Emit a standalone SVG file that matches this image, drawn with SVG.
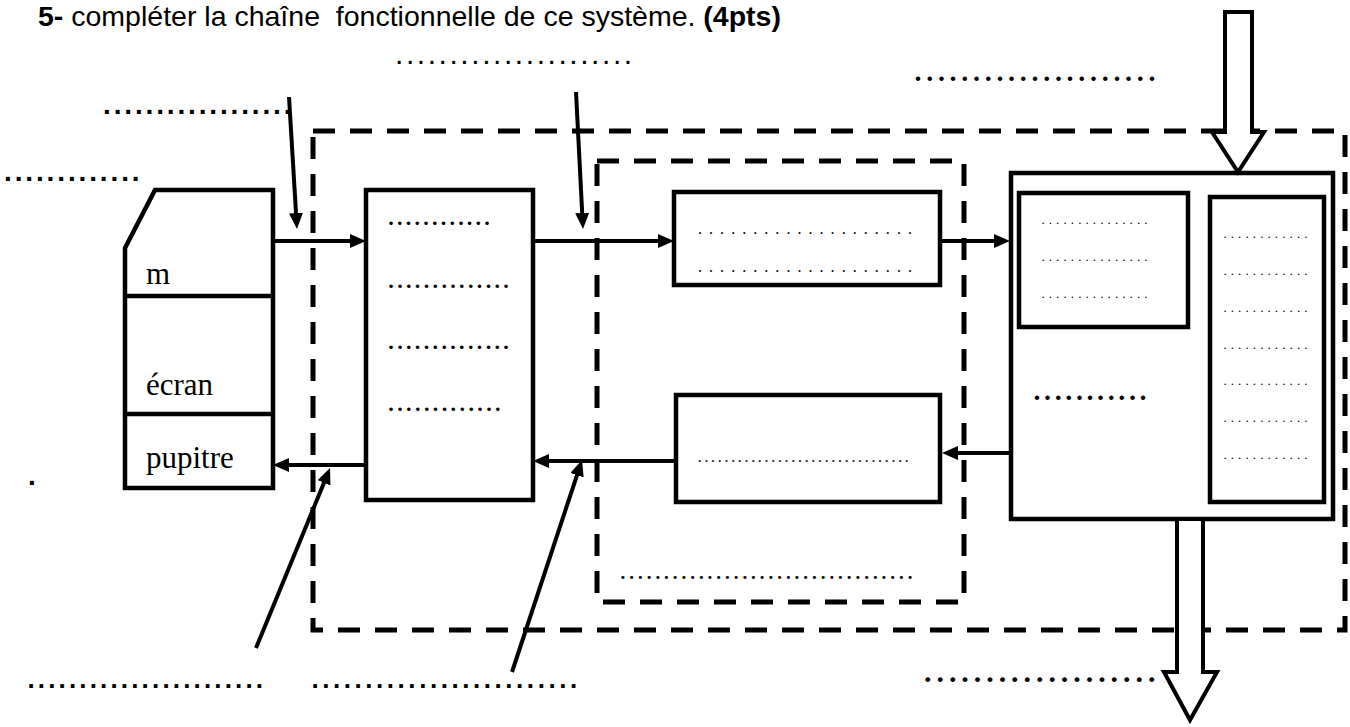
<svg xmlns="http://www.w3.org/2000/svg" width="1350" height="727" viewBox="0 0 1350 727">
<defs>
<marker id="ah" viewBox="0 0 16 14" markerWidth="16" markerHeight="14" refX="8" refY="7" orient="auto" markerUnits="userSpaceOnUse">
<path d="M0,0 L16,7 L0,14 z" fill="#000"/>
</marker>
</defs>
<style>
.box{fill:#fff;stroke:#000;stroke-width:4.5}
.dash{fill:none;stroke:#000;stroke-width:5;stroke-dasharray:22 15}
.con{fill:none;stroke:#000;stroke-width:4;marker-end:url(#ah)}
.hol{fill:#fff;stroke:#000;stroke-width:4;stroke-linejoin:miter}
.title{font-family:"Liberation Sans",Arial,sans-serif;font-size:28.5px;fill:#000}
.lbl{font-family:"Liberation Serif","Times New Roman",serif;font-size:31px;fill:#000}
.sq{font-family:"Liberation Sans",Arial,sans-serif;font-size:30px;letter-spacing:2.56px;fill:#000}
.sqb{font-family:"Liberation Sans",Arial,sans-serif;font-weight:bold;font-size:28px;fill:#000}
.sqm{font-family:"Liberation Sans",Arial,sans-serif;font-weight:bold;font-size:26px;fill:#000}
.rb{font-family:"Liberation Serif","Times New Roman",serif;font-weight:bold;fill:#000}
.rs{font-family:"Liberation Serif","Times New Roman",serif;fill:#000}
.ri{font-family:"Liberation Serif","Times New Roman",serif;font-style:italic;font-size:17px;letter-spacing:2.43px;fill:#222}
</style>

<text class="title" x="38" y="26" xml:space="preserve"><tspan font-weight="bold">5-</tspan> compléter la chaîne  fonctionnelle de ce système. <tspan font-weight="bold">(4pts)</tspan></text>

<!-- dashed boundaries -->
<g id="outer-boundary"><rect class="dash" x="313" y="131" width="1032" height="499"/></g>
<g id="inner-boundary"><rect class="dash" x="597" y="161" width="367" height="441"/></g>

<!-- device -->
<g id="device">
<path class="box" d="M125,248 L155,190 L273,190 L273,488 L125,488 Z"/>
<line x1="125" y1="296" x2="273" y2="296" stroke="#000" stroke-width="4.5"/>
<line x1="125" y1="414" x2="273" y2="414" stroke="#000" stroke-width="4.5"/>
<text class="lbl" x="146" y="284">m</text>
<text class="lbl" x="146" y="395">écran</text>
<text class="lbl" x="146" y="468">pupitre</text>
</g>

<!-- box A -->
<g id="box-a">
<rect class="box" x="366" y="190" width="167" height="310"/>
<text class="rb" font-size="22" letter-spacing="3.23" x="388.3" y="225">............</text>
<text class="rb" font-size="22" letter-spacing="3.35" x="388.3" y="288">..............</text>
<text class="rb" font-size="22" letter-spacing="3.35" x="388.3" y="349">..............</text>
<text class="rb" font-size="22" letter-spacing="3.4" x="388.3" y="411">.............</text>
</g>

<!-- box B -->
<g id="box-b">
<rect class="box" x="674" y="192" width="266" height="93"/>
<text class="rs" font-size="16" letter-spacing="7.05" x="698" y="234">....................</text>
<text class="rs" font-size="16" letter-spacing="7.05" x="698" y="272">....................</text>
</g>

<!-- box C -->
<g id="box-c">
<rect class="box" x="676" y="395" width="264" height="107"/>
<text class="ri" x="698" y="461.5">................................</text>
</g>
<text class="rb" font-size="19" letter-spacing="3.95" x="620.6" y="578.6">..................................</text>

<!-- box D -->
<g id="box-d">
<rect class="box" x="1011" y="173" width="322" height="346"/>
<rect class="box" x="1019" y="193" width="169" height="134"/>
<rect class="box" x="1210" y="197" width="114" height="305"/>
<text class="rs" font-size="13" letter-spacing="4.1" x="1041.4" y="224">...............</text>
<text class="rs" font-size="13" letter-spacing="4.1" x="1041.4" y="261">...............</text>
<text class="rs" font-size="13" letter-spacing="4.1" x="1041.4" y="298">...............</text>
<text class="rs" font-size="13" letter-spacing="4.1" x="1223.4" y="238">............</text>
<text class="rs" font-size="13" letter-spacing="4.1" x="1223.4" y="275">............</text>
<text class="rs" font-size="13" letter-spacing="4.1" x="1223.4" y="312">............</text>
<text class="rs" font-size="13" letter-spacing="4.1" x="1223.4" y="349">............</text>
<text class="rs" font-size="13" letter-spacing="4.1" x="1223.4" y="385">............</text>
<text class="rs" font-size="13" letter-spacing="4.1" x="1223.4" y="422">............</text>
<text class="rs" font-size="13" letter-spacing="4.1" x="1223.4" y="459">............</text>
<text class="rb" font-size="28" letter-spacing="3.6" x="1033.5" y="400">...........</text>
</g>

<!-- hollow arrows -->
<g id="input-arrow"><path class="hol" d="M1225,12 L1252,12 L1252,132 L1264,132 L1238,172 L1212,132 L1225,132 Z"/></g>
<g id="output-arrow"><path class="hol" d="M1177,519 L1203,519 L1203,672 L1217,672 L1190,720 L1164,672 L1177,672 Z"/></g>

<!-- connectors -->
<g id="connectors">
<path class="con" d="M273,241 H358"/>
<path class="con" d="M533,241 H666"/>
<path class="con" d="M940,241 H1002"/>
<path class="con" d="M1012,453 H950"/>
<path class="con" d="M676,461 H541"/>
<path class="con" d="M366,465 H281"/>
<path class="con" d="M289,97 L296.5,221"/>
<path class="con" d="M576,92 L582.6,221"/>
<path class="con" d="M256,648 L327,475.4"/>
<path class="con" d="M512,672 L579.5,467.6"/>
</g>

<!-- outside labels -->
<g id="labels">
<text class="sq" x="395" y="63.5">......................</text>
<text class="sqb" letter-spacing="2.85" x="103" y="114">..................</text>
<text class="sqb" letter-spacing="2.87" x="4" y="181">.............</text>
<text class="sqm" letter-spacing="3.16" x="27.4" y="688">.......................</text>
<text class="sqm" letter-spacing="3.55" x="311.4" y="688">.........................</text>
<text class="sqb" x="28" y="485">.</text>
<text class="rb" font-size="28" letter-spacing="4.7" x="914.5" y="81">.....................</text>
<text class="rb" font-size="30" letter-spacing="4.94" x="924" y="681.5">...................</text>
</g>
</svg>
